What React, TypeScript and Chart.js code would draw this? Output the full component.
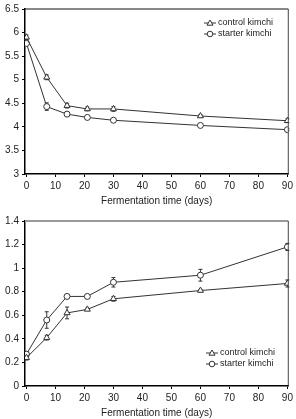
import React, { useEffect, useRef } from "react";
import { Chart, registerables } from "chart.js";

Chart.register(...registerables);

// Fermentation sampling days
const days = [0, 7, 14, 21, 30, 60, 90];
const xTicks = [0, 10, 20, 30, 40, 50, 60, 70, 80, 90];
const seriesLabels = ["control kimchi", "starter kimchi"];

// pH during fermentation
const phControl = [5.9, 5.05, 4.45, 4.38, 4.38, 4.23, 4.13];
const phControlErr = [0.05, 0.05, 0.05, 0.04, 0.05, 0.03, 0.04];
const phStarter = [5.77, 4.43, 4.27, 4.2, 4.14, 4.03, 3.94];
const phStarterErr = [0.04, 0.08, 0.04, 0.03, 0.02, 0.02, 0.02];

// Titratable acidity during fermentation
const acidControl = [0.24, 0.41, 0.62, 0.65, 0.74, 0.81, 0.87];
const acidControlErr = [0.02, 0.02, 0.05, 0.01, 0.02, 0.01, 0.03];
const acidStarter = [0.27, 0.56, 0.76, 0.76, 0.88, 0.94, 1.18];
const acidStarterErr = [0.02, 0.07, 0.01, 0.01, 0.04, 0.05, 0.03];

const FONT = "'Liberation Sans', Arial, sans-serif";
const INK = "#333";

const fmt = (v: number | string) => String(Number(Number(v).toFixed(2)));

// Vertical error bars with caps, drawn from each dataset's `errors` array
const errorBars = {
  id: "errorBars",
  beforeDatasetsDraw(chart: any) {
    const { ctx, scales } = chart;
    ctx.save();
    ctx.strokeStyle = INK;
    ctx.lineWidth = 1;
    chart.data.datasets.forEach((ds: any) => {
      ds.data.forEach((p: any, i: number) => {
        const e = ds.errors[i];
        const x = scales.x.getPixelForValue(p.x);
        const y1 = scales.y.getPixelForValue(p.y + e);
        const y2 = scales.y.getPixelForValue(p.y - e);
        ctx.beginPath();
        ctx.moveTo(x, y1);
        ctx.lineTo(x, y2);
        ctx.moveTo(x - 2, y1);
        ctx.lineTo(x + 2, y1);
        ctx.moveTo(x - 2, y2);
        ctx.lineTo(x + 2, y2);
        ctx.stroke();
      });
    });
    ctx.restore();
  },
};

// Top/right frame of the plot area
const frame = {
  id: "frame",
  afterDraw(chart: any, _a: any, opts: any) {
    const { ctx, chartArea: a } = chart;
    ctx.save();
    ctx.strokeStyle = opts.topColor;
    ctx.lineWidth = opts.topWidth;
    ctx.beginPath();
    ctx.moveTo(a.left, a.top);
    ctx.lineTo(a.right, a.top);
    ctx.stroke();
    ctx.strokeStyle = opts.rightColor;
    ctx.lineWidth = 1;
    ctx.beginPath();
    ctx.moveTo(a.right, a.top);
    ctx.lineTo(a.right, a.bottom);
    ctx.stroke();
    ctx.restore();
  },
};

// Legend: short line with the series marker, then the label
const lineLegend = {
  id: "lineLegend",
  afterDraw(chart: any, _a: any, opts: any) {
    const { ctx } = chart;
    ctx.save();
    ctx.font = `9px ${FONT}`;
    ctx.textBaseline = "middle";
    chart.data.datasets.forEach((ds: any, i: number) => {
      const y = opts.y + i * opts.gap;
      const x0 = opts.x;
      ctx.strokeStyle = INK;
      ctx.lineWidth = 1;
      ctx.beginPath();
      ctx.moveTo(x0, y);
      ctx.lineTo(x0 + 12, y);
      ctx.stroke();
      ctx.fillStyle = "#fff";
      ctx.beginPath();
      if (ds.pointStyle === "triangle") {
        ctx.moveTo(x0 + 6, y - 3);
        ctx.lineTo(x0 + 9, y + 2.2);
        ctx.lineTo(x0 + 3, y + 2.2);
        ctx.closePath();
      } else {
        ctx.arc(x0 + 6, y, 2.8, 0, Math.PI * 2);
      }
      ctx.fill();
      ctx.stroke();
      ctx.fillStyle = "#222";
      ctx.fillText(ds.label, x0 + 14, y);
    });
    ctx.restore();
  },
};

interface PanelProps {
  control: number[];
  controlErr: number[];
  starter: number[];
  starterErr: number[];
  yMin: number;
  yMax: number;
  yStep: number;
  height: number;
  padTop: number;
  xHeight: number;
  titlePad: number;
  legendX: number;
  legendY: number;
  topColor: string;
  topWidth: number;
  rightColor: string;
}

function Panel(p: PanelProps) {
  const ref = useRef<HTMLCanvasElement>(null);
  useEffect(() => {
    const mk = (vals: number[], errs: number[], label: string, style: string) => ({
      label,
      data: days.map((d, i) => ({ x: d, y: vals[i] })),
      errors: errs,
      pointStyle: style,
      pointRadius: style === "triangle" ? 3.5 : 3,
      pointBackgroundColor: "#fff",
      pointBorderColor: INK,
      pointBorderWidth: 1,
      borderColor: INK,
      borderWidth: 1,
      fill: false,
      tension: 0,
    });
    const chart = new Chart(ref.current as HTMLCanvasElement, {
      type: "line",
      data: {
        datasets: [
          mk(p.control, p.controlErr, seriesLabels[0], "triangle"),
          mk(p.starter, p.starterErr, seriesLabels[1], "circle"),
        ] as any,
      },
      options: {
        animation: false,
        responsive: false,
        devicePixelRatio: 1,
        layout: { padding: { top: p.padTop, right: 7, left: 0, bottom: 0 } },
        plugins: {
          legend: { display: false },
          tooltip: { enabled: false },
          frame: { topColor: p.topColor, topWidth: p.topWidth, rightColor: p.rightColor },
          lineLegend: { x: p.legendX, y: p.legendY, gap: 11 },
        } as any,
        scales: {
          x: {
            type: "linear",
            min: -0.5,
            max: 90.3,
            afterFit: (s: any) => {
              s.height = p.xHeight;
            },
            afterBuildTicks: (s: any) => {
              s.ticks = xTicks.map((v) => ({ value: v }));
            },
            ticks: {
              autoSkip: false,
              maxRotation: 0,
              padding: 3,
              color: "#222",
              font: { family: FONT, size: 10 },
            },
            grid: { drawOnChartArea: false, drawTicks: true, tickLength: 3, color: "#000" },
            border: { display: true, color: "#000", width: 1.5 },
            title: {
              display: true,
              text: "Fermentation time (days)",
              color: "#222",
              font: { family: FONT, size: 10 },
              padding: { top: 0, bottom: p.titlePad },
            },
          },
          y: {
            type: "linear",
            min: p.yMin,
            max: p.yMax,
            afterFit: (s: any) => {
              s.width = 25;
            },
            ticks: {
              stepSize: p.yStep,
              padding: 3,
              color: "#222",
              font: { family: FONT, size: 10 },
              callback: (v: any) => fmt(v),
            },
            grid: { drawOnChartArea: false, drawTicks: true, tickLength: 3, color: "#000" },
            border: { display: true, color: "#000", width: 1.5 },
          },
        },
      } as any,
      plugins: [errorBars, frame, lineLegend],
    });
    return () => chart.destroy();
  }, []);
  return <canvas ref={ref} width={296} height={p.height} style={{ display: "block" }} />;
}

export default function App() {
  return (
    <div style={{ position: "absolute", left: 0, top: 0, width: 296, height: 419, background: "#fff" }}>
      <Panel
        control={phControl}
        controlErr={phControlErr}
        starter={phStarter}
        starterErr={phStarterErr}
        yMin={3}
        yMax={6.5}
        yStep={0.5}
        height={210}
        padTop={8}
        xHeight={36}
        titlePad={3}
        legendX={204}
        legendY={23}
        topColor="#111"
        topWidth={1}
        rightColor="#444"
      />
      <Panel
        control={acidControl}
        controlErr={acidControlErr}
        starter={acidStarter}
        starterErr={acidStarterErr}
        yMin={0}
        yMax={1.4}
        yStep={0.2}
        height={209}
        padTop={11}
        xHeight={33}
        titlePad={0}
        legendX={206}
        legendY={143}
        topColor="#999"
        topWidth={2}
        rightColor="#444"
      />
    </div>
  );
}
